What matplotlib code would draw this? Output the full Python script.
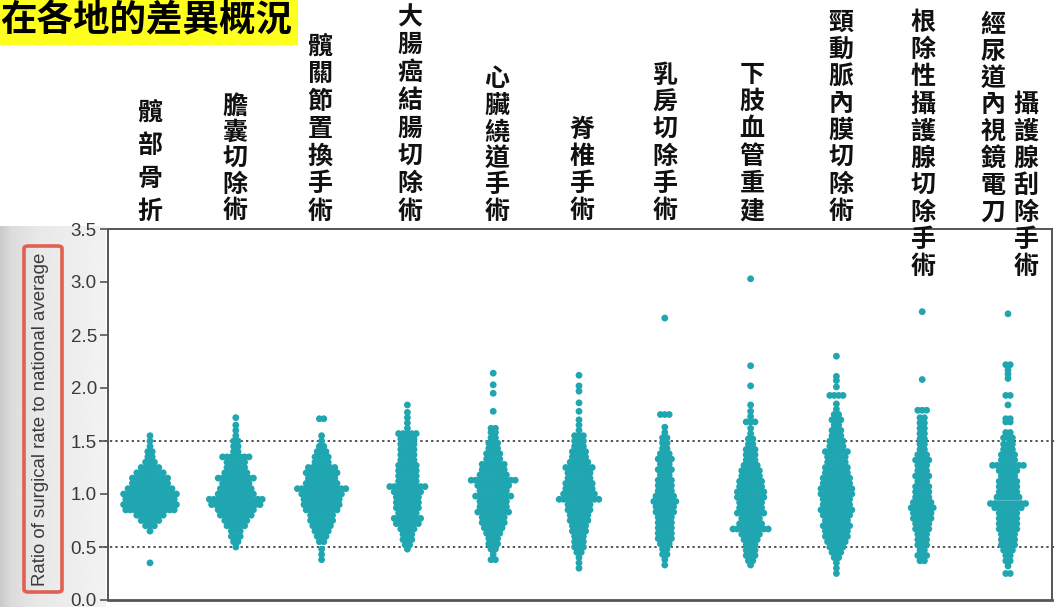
import numpy as np
import matplotlib
matplotlib.use("Agg")
import matplotlib.pyplot as plt
from matplotlib.patches import FancyBboxPatch, Rectangle

# ---------------- data ----------------
categories = ["髖部骨折", "膽囊切除術", "髖關節置換手術", "大腸癌結腸切除術",
              "心臟繞道手術", "脊椎手術", "乳房切除手術", "下肢血管重建",
              "頸動脈內膜切除術", "根除性攝護腺切除手術",
              "經尿道內視鏡電刀攝護腺刮除手術"]

# (ratio level, number of regions at that level)
hip_fracture = [(0.35, 1), (0.65, 1), (0.70, 3), (0.75, 5), (0.80, 7), (0.85, 12),
                (0.90, 13), (0.95, 12), (1.00, 13), (1.05, 11), (1.10, 9), (1.15, 9),
                (1.20, 7), (1.25, 5), (1.30, 3), (1.35, 2), (1.40, 2), (1.45, 1),
                (1.50, 1), (1.55, 1)]
cholecystectomy = [(0.50, 1), (0.55, 2), (0.60, 3), (0.65, 3), (0.70, 5), (0.75, 6),
                   (0.80, 8), (0.85, 9), (0.90, 12), (0.95, 13), (1.00, 9), (1.05, 8),
                   (1.10, 7), (1.15, 9), (1.20, 6), (1.25, 5), (1.30, 5), (1.35, 7),
                   (1.40, 2), (1.45, 2), (1.50, 2), (1.55, 1), (1.60, 1), (1.65, 1),
                   (1.72, 1)]
hip_replacement = [(0.38, 1), (0.43, 1), (0.48, 1), (0.55, 2), (0.60, 3), (0.65, 4),
                   (0.70, 5), (0.75, 6), (0.80, 6), (0.85, 8), (0.90, 9), (0.95, 9),
                   (1.00, 10), (1.05, 12), (1.10, 8), (1.15, 7), (1.20, 8), (1.25, 7),
                   (1.30, 4), (1.35, 4), (1.40, 3), (1.45, 2), (1.50, 1), (1.55, 1),
                   (1.71, 2)]
colectomy = [(0.48, 1), (0.52, 2), (0.57, 3), (0.62, 3), (0.67, 4), (0.72, 6),
             (0.77, 7), (0.82, 5), (0.87, 6), (0.92, 6), (0.97, 6), (1.02, 7),
             (1.07, 9), (1.12, 5), (1.17, 5), (1.22, 5), (1.27, 5), (1.32, 4),
             (1.37, 4), (1.42, 4), (1.47, 4), (1.52, 4), (1.57, 5), (1.62, 1),
             (1.67, 1), (1.72, 1), (1.77, 1), (1.84, 1)]
cabg = [(0.38, 2), (0.43, 1), (0.48, 2), (0.53, 3), (0.58, 3), (0.63, 4), (0.68, 5),
        (0.73, 6), (0.78, 6), (0.83, 8), (0.88, 7), (0.93, 7), (0.98, 9), (1.03, 7),
        (1.08, 8), (1.13, 11), (1.18, 7), (1.23, 6), (1.28, 6), (1.33, 4), (1.38, 4),
        (1.43, 3), (1.48, 3), (1.53, 2), (1.58, 2), (1.62, 2), (1.78, 1), (1.95, 1),
        (2.03, 1), (2.14, 1)]
spine = [(0.30, 1), (0.35, 1), (0.40, 1), (0.45, 2), (0.50, 3), (0.55, 3), (0.60, 3),
         (0.65, 4), (0.70, 4), (0.75, 5), (0.80, 5), (0.85, 6), (0.90, 6), (0.95, 10),
         (1.00, 8), (1.05, 7), (1.10, 7), (1.15, 6), (1.20, 6), (1.25, 7), (1.30, 5),
         (1.35, 4), (1.40, 4), (1.45, 3), (1.50, 3), (1.55, 3), (1.60, 1), (1.65, 1),
         (1.70, 1), (1.78, 1), (1.86, 1), (1.97, 1), (2.02, 1), (2.12, 1)]
mastectomy = [(0.33, 1), (0.38, 1), (0.43, 2), (0.48, 2), (0.53, 3), (0.58, 4),
              (0.63, 4), (0.68, 4), (0.73, 4), (0.78, 4), (0.83, 5), (0.88, 5),
              (0.93, 6), (0.98, 5), (1.03, 4), (1.08, 4), (1.13, 4), (1.18, 3),
              (1.23, 4), (1.28, 3), (1.33, 4), (1.38, 3), (1.43, 2), (1.48, 2),
              (1.53, 2), (1.58, 1), (1.63, 1), (1.75, 3), (2.66, 1)]
lower_ext_revasc = [(0.33, 1), (0.37, 2), (0.42, 3), (0.47, 3), (0.52, 3), (0.57, 4),
                    (0.62, 5), (0.67, 9), (0.72, 6), (0.77, 5), (0.82, 7), (0.87, 6),
                    (0.92, 6), (0.97, 7), (1.02, 7), (1.07, 6), (1.12, 6), (1.17, 5),
                    (1.22, 5), (1.27, 4), (1.32, 3), (1.37, 3), (1.42, 3), (1.47, 2),
                    (1.52, 2), (1.57, 1), (1.62, 1), (1.68, 3), (1.73, 1), (1.78, 1),
                    (1.84, 1), (2.02, 1), (2.21, 1), (3.03, 1)]
carotid = [(0.25, 1), (0.30, 1), (0.35, 1), (0.40, 2), (0.45, 3), (0.50, 4), (0.55, 5),
           (0.60, 6), (0.65, 6), (0.70, 7), (0.75, 6), (0.80, 7), (0.85, 8), (0.90, 7),
           (0.95, 7), (1.00, 8), (1.05, 8), (1.10, 7), (1.15, 7), (1.20, 6), (1.25, 6),
           (1.30, 5), (1.35, 5), (1.40, 6), (1.45, 4), (1.50, 4), (1.55, 3), (1.60, 3),
           (1.65, 2), (1.70, 3), (1.75, 2), (1.80, 1), (1.85, 1), (1.93, 4), (2.01, 1),
           (2.07, 1), (2.11, 1), (2.30, 1)]
radical_prostatectomy = [(0.37, 2), (0.42, 3), (0.47, 2), (0.52, 3), (0.57, 3),
                         (0.62, 3), (0.67, 4), (0.72, 4), (0.77, 5), (0.82, 5),
                         (0.87, 6), (0.92, 5), (0.97, 4), (1.02, 4), (1.07, 4),
                         (1.12, 3), (1.17, 4), (1.22, 3), (1.27, 3), (1.32, 4),
                         (1.37, 3), (1.42, 2), (1.47, 2), (1.52, 2), (1.57, 2),
                         (1.62, 2), (1.67, 2), (1.72, 2), (1.79, 3), (2.08, 1),
                         (2.72, 1)]
turp = [(0.25, 2), (0.32, 1), (0.37, 2), (0.42, 2), (0.47, 3), (0.52, 4), (0.57, 4),
        (0.62, 4), (0.67, 5), (0.72, 5), (0.77, 5), (0.82, 5), (0.87, 7), (0.91, 9),
        (0.97, 6), (1.02, 5), (1.07, 5), (1.12, 5), (1.17, 4), (1.22, 5), (1.27, 8),
        (1.32, 4), (1.37, 4), (1.42, 3), (1.47, 3), (1.53, 3), (1.58, 2), (1.68, 2),
        (1.71, 2), (1.84, 1), (1.93, 2), (2.09, 1), (2.13, 1), (2.17, 1), (2.22, 2),
        (2.70, 1)]

swarms = [hip_fracture, cholecystectomy, hip_replacement, colectomy, cabg, spine,
          mastectomy, lower_ext_revasc, carotid, radical_prostatectomy, turp]

yticks = [0.0, 0.5, 1.0, 1.5, 2.0, 2.5, 3.0, 3.5]
ref_lines = [0.5, 1.5]
title = "在各地的差異概況"
ylabel = "Ratio of surgical rate to national average"

# ---------------- layout ----------------
W, H, DPI = 1057, 607, 100
TEAL = "#1fa6b1"
CJK = ["Noto Sans CJK TC", "DejaVu Sans"]

fig = plt.figure(figsize=(W / DPI, H / DPI), dpi=DPI)
fig.patch.set_facecolor("white")


def fx(px):
    return px / W


def fy(py):
    return 1 - py / H


# scanned-page shading on the left margin
bg = fig.add_axes([0, 0, fx(106), fy(226)], zorder=0)
grad = np.interp(np.linspace(0, 1, 200), [0, 0.1, 0.35, 1.0], [0.79, 0.86, 0.91, 0.95])
bg.imshow(np.tile(grad, (10, 1)), cmap="gray", vmin=0, vmax=1, aspect="auto",
          extent=[0, 1, 0, 1])
bg.set_axis_off()

ax = fig.add_axes([fx(108), fy(600), fx(1052) - fx(108), fy(229) - fy(600)], zorder=2)
ax.set_facecolor("white")

n_cat = len(categories)
xpos = np.arange(n_cat)
px_per_unit = 85.8
ax.set_xlim(-(150 - 108) / px_per_unit, (n_cat - 1) + (1052 - 1008) / px_per_unit)
ax.set_ylim(0, 3.5)

dx = 4.4 / px_per_unit
for xc, sw in zip(xpos, swarms):
    xs, ys = [], []
    for val, cnt in sw:
        offs = (np.arange(cnt) - (cnt - 1) / 2.0) * dx
        xs.extend(xc + offs)
        ys.extend([val] * cnt)
    ax.scatter(xs, ys, s=24, color=TEAL, edgecolors="none", zorder=3)

for yv in ref_lines:
    ax.plot([-0.01, 1.006], [yv, yv], transform=ax.get_yaxis_transform(),
            color="#555555", lw=1.4, ls=(0, (1.2, 1.6)), clip_on=False, zorder=2)

ax.set_yticks(yticks)
ax.set_yticklabels([f"{t:.1f}" for t in yticks], fontfamily="Liberation Sans",
                   fontsize=13.5, color="#3a3a3a")
ax.tick_params(axis="y", direction="out", length=6, width=1.2, color="#555555", pad=2)
ax.set_xticks([])
for side in ["left", "bottom", "top", "right"]:
    ax.spines[side].set_color("#555555")
    ax.spines[side].set_linewidth(1.4)
ax.spines["bottom"].set_linewidth(2.0)

# y-axis label with red rounded box
fig.text(fx(41), fy(419), ylabel, rotation=90, ha="center", va="center",
         fontfamily="Liberation Sans", fontsize=13.4, color="#3a3a3a", zorder=5)
box = FancyBboxPatch((fx(24), fy(592)), fx(62) - fx(24), fy(246) - fy(592),
                     boxstyle="round,pad=0,rounding_size=0.004",
                     transform=fig.transFigure, fill=False,
                     edgecolor="#e2604f", linewidth=2.6, zorder=6)
fig.add_artist(box)

# title on yellow band
fig.add_artist(Rectangle((0, fy(45)), fx(298), 1 - fy(45), transform=fig.transFigure,
                         facecolor="#ffff1e", edgecolor="none", zorder=1))
fig.text(fx(292), fy(21), title, ha="right", va="center", fontfamily=CJK,
         fontsize=26.3, fontweight="bold", color="black", zorder=5)

# vertical category labels (column text, x px, last-char centre y px, char step px)
label_columns = [
    (categories[0], 150, 212, 33.0),
    (categories[1], 235, 211, 26.0),
    (categories[2], 320, 212, 27.6),
    (categories[3], 410, 212, 27.8),
    (categories[4], 497, 212, 26.6),
    (categories[5], 582, 211, 27.0),
    (categories[6], 665, 211, 27.0),
    (categories[7], 752, 211, 27.2),
    (categories[8], 841, 212, 27.1),
    (categories[9], 923, 267, 27.1),
    (categories[10][:8], 993, 213, 26.9),
    (categories[10][8:], 1026, 267, 27.0),
]
for text, xp, ybot, step in label_columns:
    n = len(text)
    for i, ch in enumerate(text):
        yp = ybot - (n - 1 - i) * step
        fig.text(fx(xp), fy(yp), ch, ha="center", va="center", fontfamily=CJK,
                 fontsize=18, fontweight="bold", color="#111111", zorder=7)

fig.savefig("out.png", dpi=DPI, facecolor="white")
